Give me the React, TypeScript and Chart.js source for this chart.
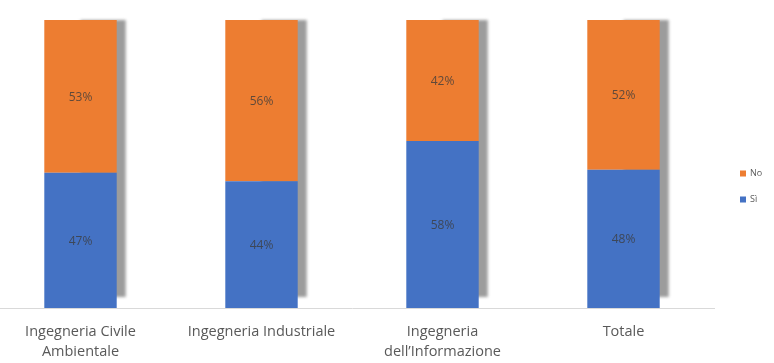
import React, { useEffect, useRef } from "react";
import { Chart, registerables } from "chart.js";

Chart.register(...registerables);

const categories: (string | string[])[] = [
  ["Ingegneria Civile", "Ambientale"],
  "Ingegneria Industriale",
  ["Ingegneria", "dell’Informazione"],
  "Totale",
];
const siValues = [47, 44, 58, 48];
const noValues = [53, 56, 42, 52];
const seriesLabels = ["Sì", "No"];
const seriesColors = ["#4472C4", "#ED7D31"];

const FONT = "'Open Sans', Lato, sans-serif";

const shadowPlugin = {
  id: "barShadow",
  beforeDatasetsDraw(chart: any) {
    const ctx = chart.ctx;
    const topMeta = chart.getDatasetMeta(1);
    const baseMeta = chart.getDatasetMeta(0);
    ctx.save();
    ctx.filter = "blur(1.5px)";
    ctx.fillStyle = "#9c9c9c";
    topMeta.data.forEach((el: any, i: number) => {
      const b = baseMeta.data[i] as any;
      const top = el.y;
      const bottom = b.base - 11;
      ctx.fillRect(el.x, top, el.width / 2 + 9, bottom - top);
    });
    ctx.restore();
  },
};

const valueLabelPlugin = {
  id: "valueLabels",
  afterDatasetsDraw(chart: any) {
    const ctx = chart.ctx;
    ctx.save();
    ctx.font = `12px ${FONT}`;
    ctx.fillStyle = "rgba(60,60,60,0.8)";
    ctx.textAlign = "center";
    ctx.textBaseline = "middle";
    chart.data.datasets.forEach((ds: any, di: number) => {
      const meta = chart.getDatasetMeta(di);
      meta.data.forEach((el: any, i: number) => {
        const p = el.getCenterPoint();
        ctx.fillText(`${ds.data[i]}%`, p.x, p.y + 1);
      });
    });
    ctx.restore();
  },
};

const legendPlugin = {
  id: "sideLegend",
  afterDraw(chart: any) {
    const ctx = chart.ctx;
    const area = chart.chartArea;
    const x = area.right + 26;
    const cy = chart.height / 2 + 5;
    const gap = 26;
    const items = chart.data.datasets
      .map((ds: any) => ({ label: ds.label, color: ds.backgroundColor }))
      .reverse();
    ctx.save();
    ctx.font = `9px ${FONT}`;
    ctx.textBaseline = "middle";
    ctx.textAlign = "left";
    items.forEach((it: any, i: number) => {
      const y = cy + (i - (items.length - 1) / 2) * gap;
      ctx.fillStyle = it.color;
      ctx.fillRect(x, y - 3, 6, 6);
      ctx.fillStyle = "#595959";
      ctx.fillText(it.label, x + 10, y);
    });
    ctx.restore();
  },
};

export default function App() {
  const ref = useRef<HTMLCanvasElement | null>(null);
  useEffect(() => {
    if (!ref.current) return;
    const chart = new Chart(ref.current, {
      type: "bar",
      data: {
        labels: categories,
        datasets: [
          {
            label: seriesLabels[0],
            data: siValues,
            backgroundColor: seriesColors[0],
            barPercentage: 0.4,
            categoryPercentage: 1,
          },
          {
            label: seriesLabels[1],
            data: noValues,
            backgroundColor: seriesColors[1],
            barPercentage: 0.4,
            categoryPercentage: 1,
          },
        ],
      },
      options: {
        animation: false,
        responsive: true,
        maintainAspectRatio: false,
        layout: { padding: { top: 20, right: 60, left: 0, bottom: 0 } },
        plugins: {
          legend: { display: false },
          tooltip: { enabled: false },
        },
        scales: {
          x: {
            stacked: true,
            grid: { display: false },
            border: { display: true, color: "#d9d9d9", width: 1 },
            ticks: {
              color: "#595959",
              font: { family: FONT, size: 14.5, lineHeight: 1.38 },
              padding: 6,
              maxRotation: 0,
              autoSkip: false,
            },
            afterFit(scale: any) {
              scale.height = 55;
            },
          },
          y: {
            stacked: true,
            display: false,
            min: 0,
            max: 100,
          },
        },
      },
      plugins: [shadowPlugin, valueLabelPlugin, legendPlugin],
    });
    return () => chart.destroy();
  }, []);
  return (
    <div
      style={{
        position: "absolute",
        left: -10,
        top: 0,
        width: 784,
        height: 363,
        background: "#fff",
      }}
    >
      <canvas ref={ref} />
    </div>
  );
}
